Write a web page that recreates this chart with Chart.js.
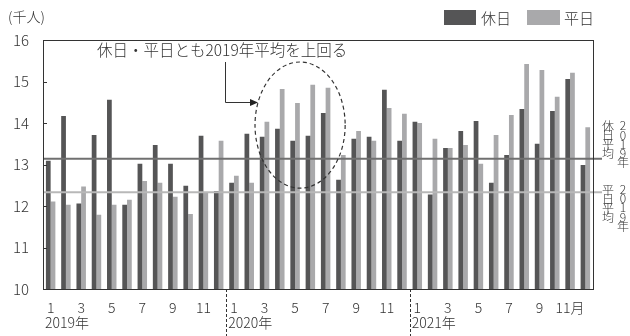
<!DOCTYPE html>
<html>
<head>
<meta charset="utf-8">
<script src="https://cdn.jsdelivr.net/npm/chart.js@4"></script>
<style>
  body { margin: 0; background: #fff; }
  #wrap { width: 630px; height: 336px; position: relative; }
</style>
</head>
<body>
<div id="wrap"><canvas id="myChart"></canvas></div>
<script>
// 2019年1月〜2021年12月
const months = [
  '2019/1','2019/2','2019/3','2019/4','2019/5','2019/6','2019/7','2019/8','2019/9','2019/10','2019/11','2019/12',
  '2020/1','2020/2','2020/3','2020/4','2020/5','2020/6','2020/7','2020/8','2020/9','2020/10','2020/11','2020/12',
  '2021/1','2021/2','2021/3','2021/4','2021/5','2021/6','2021/7','2021/8','2021/9','2021/10','2021/11','2021/12'
];
const tickLabels = [
  '1','','3','','5','','7','','9','','11','',
  '1','','3','','5','','7','','9','','11','',
  '1','','3','','5','','7','','9','','11月',''
];
const yearLabels = ['2019年', '2020年', '2021年'];

const holiday = [
  13.09, 14.17, 12.06, 13.71, 14.56, 12.03, 13.02, 13.47, 13.02, 12.49, 13.69, 12.36,
  12.56, 13.74, 13.67, 13.86, 13.57, 13.69, 14.24, 12.63, 13.62, 13.67, 14.80, 13.57,
  14.03, 12.28, 13.40, 13.81, 14.05, 12.56, 13.23, 14.34, 13.50, 14.29, 15.06, 12.99
];
const weekday = [
  12.11, 12.03, 12.47, 11.79, 12.03, 12.15, 12.60, 12.56, 12.22, 11.81, 12.33, 13.57,
  12.73, 12.56, 14.03, 14.82, 14.48, 14.92, 14.85, 13.23, 13.81, 13.57, 14.36, 14.22,
  14.00, 13.62, 13.40, 13.47, 13.02, 13.71, 14.19, 15.42, 15.28, 14.63, 15.21, 13.90
];
const holidayAvg2019 = 13.14;
const weekdayAvg2019 = 12.33;

const FONT = '"Noto Sans CJK JP", "Noto Sans", sans-serif';
const DARK = '#555556';
const LIGHT = '#a9a9ab';

const extras = {
  id: 'extras',
  afterDatasetsDraw(chart) {
    const { ctx, chartArea: a, scales: { x, y } } = chart;
    const step = x.getPixelForValue(1) - x.getPixelForValue(0);
    ctx.save();

    // 2019年平均の線
    [[holidayAvg2019, '#707070'], [weekdayAvg2019, '#b8b8b8']].forEach(([v, c]) => {
      const py = y.getPixelForValue(v);
      ctx.strokeStyle = c;
      ctx.lineWidth = 2;
      ctx.beginPath();
      ctx.moveTo(a.left, py);
      ctx.lineTo(a.right + 9, py);
      ctx.stroke();
    });

    // 枠
    ctx.strokeStyle = '#333';
    ctx.lineWidth = 1;
    ctx.strokeRect(a.left + 0.5, a.top + 0.5, a.right - a.left, a.bottom - a.top);

    // 目盛り
    for (let v = 11; v < 16; v++) {
      const py = Math.round(y.getPixelForValue(v)) + 0.5;
      ctx.beginPath();
      ctx.moveTo(a.left, py);
      ctx.lineTo(a.left + 4, py);
      ctx.stroke();
    }

    // 年の区切り
    ctx.setLineDash([3, 2]);
    [12, 24].forEach(i => {
      const px = Math.round(x.getPixelForValue(i) - step / 2) + 0.5;
      ctx.beginPath();
      ctx.moveTo(px, a.bottom);
      ctx.lineTo(px, 336);
      ctx.stroke();
    });
    ctx.setLineDash([]);

    // 年ラベル
    ctx.fillStyle = '#333';
    ctx.font = '300 14px ' + FONT;
    ctx.textBaseline = 'middle';
    ctx.textAlign = 'left';
    yearLabels.forEach((t, k) => {
      const px = x.getPixelForValue(k * 12) - step / 2 + 2;
      ctx.fillText(t, px, 323);
    });

    // 単位
    ctx.fillText('(千人)', 8, 17);

    // 凡例
    ctx.fillStyle = DARK;
    ctx.fillRect(444, 10, 32, 15);
    ctx.fillStyle = LIGHT;
    ctx.fillRect(527, 10, 33, 15);
    ctx.fillStyle = '#333';
    ctx.font = '300 15px ' + FONT;
    ctx.fillText('休日', 481, 18);
    ctx.fillText('平日', 564, 18);

    // 右側の縦書きラベル
    ctx.font = '300 12px ' + FONT;
    ctx.textAlign = 'center';
    const vert = (col1, col2, topY) => {
      [...col1].forEach((ch, i) => ctx.fillText(ch, 608, topY + i * 9));
      [...col2].forEach((ch, i) => ctx.fillText(ch, 623, topY - 1 + i * 9.3));
    };
    vert('休日平均', '2019年', y.getPixelForValue(holidayAvg2019) - 32);
    vert('平日平均', '2019年', y.getPixelForValue(weekdayAvg2019) - 2);

    // 注釈
    ctx.font = '300 15.5px ' + FONT;
    ctx.textAlign = 'left';
    ctx.fillText('休日・平日とも2019年平均を上回る', 97, 50);

    const cx = x.getPixelForValue(16) + 5;
    const cy = y.getPixelForValue(13.95);
    ctx.setLineDash([4, 3]);
    ctx.lineWidth = 1.2;
    ctx.beginPath();
    ctx.ellipse(cx, cy, step * 2.95, (y.getPixelForValue(12) - y.getPixelForValue(13.52)), 0, 0, Math.PI * 2);
    ctx.stroke();
    ctx.setLineDash([]);

    ctx.lineWidth = 1;
    ctx.beginPath();
    ctx.moveTo(225.5, 62);
    ctx.lineTo(225.5, 102.5);
    ctx.lineTo(252, 102.5);
    ctx.stroke();
    ctx.fillStyle = '#222';
    ctx.beginPath();
    ctx.moveTo(258, 102.5);
    ctx.lineTo(250, 99);
    ctx.lineTo(250, 106);
    ctx.closePath();
    ctx.fill();

    ctx.restore();
  }
};

const ctx = document.getElementById('myChart').getContext('2d');
const myChart = new Chart(ctx, {
  type: 'bar',
  data: {
    labels: months,
    datasets: [
      { label: '休日', data: holiday, backgroundColor: DARK },
      { label: '平日', data: weekday, backgroundColor: LIGHT }
    ]
  },
  options: {
    responsive: true,
    maintainAspectRatio: false,
    animation: false,
    layout: { padding: { top: 40, right: 37, left: 0, bottom: 0 } },
    datasets: { bar: { categoryPercentage: 0.62, barPercentage: 1.0 } },
    plugins: { legend: { display: false }, tooltip: { enabled: false } },
    scales: {
      x: {
        grid: { display: false },
        border: { display: false },
        ticks: {
          autoSkip: false,
          maxRotation: 0,
          padding: 2,
          color: '#333',
          font: { family: FONT, size: 14, weight: 300 },
          callback: (v, i) => tickLabels[i]
        },
        afterFit: s => { s.height = 47; }
      },
      y: {
        min: 10,
        max: 16,
        grid: { display: false },
        border: { display: false },
        ticks: {
          stepSize: 1,
          padding: 6,
          color: '#333',
          font: { family: FONT, size: 15, weight: 300 }
        },
        afterFit: s => { s.width = 43; }
      }
    }
  },
  plugins: [extras]
});
</script>
</body>
</html>
